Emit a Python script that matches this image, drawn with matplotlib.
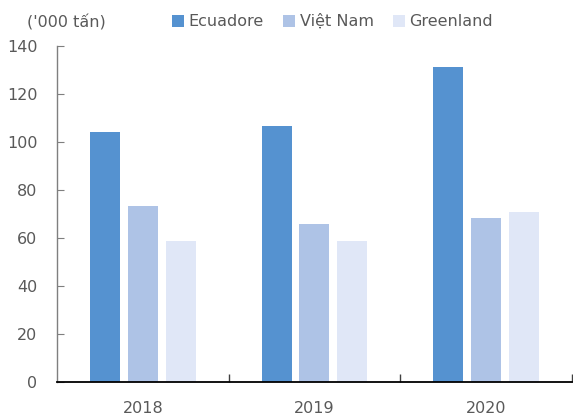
import numpy as np
import matplotlib
matplotlib.use('Agg')
from matplotlib import pyplot as plt
from matplotlib.patches import Patch

years = ['2018', '2019', '2020']
series = ['Ecuadore', 'Việt Nam', 'Greenland']
ecuadore = [104.2, 106.5, 131.3]
vietnam = [73.2, 65.8, 68.3]
greenland = [58.7, 58.8, 70.7]
colors = ['#5592D0', '#AEC3E6', '#E0E7F7']

text_col = '#595959'
plt.rcParams['font.family'] = ['DejaVu Sans']
plt.rcParams['font.size'] = 11

fig = plt.figure(figsize=(5.73, 4.17), dpi=100)
ax = fig.add_axes([0.0995, 0.084, 0.8985, 0.806])

x = np.arange(len(years))
w = 0.175
step = 0.22
for i, (vals, c) in enumerate(zip([ecuadore, vietnam, greenland], colors)):
    ax.bar(x + (i - 1) * step, vals, width=w, color=c, edgecolor='none')

ax.set_xlim(-0.5, 2.5)
ax.set_ylim(0, 140)
ax.set_yticks(np.arange(0, 141, 20))
ax.set_xticks(x)
ax.set_xticklabels(years)
ax.set_xticks([0.5, 1.5, 2.5], minor=True)

for s in ['top', 'right']:
    ax.spines[s].set_visible(False)
ax.spines['left'].set_color('#7f7f7f')
ax.spines['left'].set_linewidth(1.0)
ax.spines['bottom'].set_color('#000000')
ax.spines['bottom'].set_linewidth(1.3)

ax.tick_params(axis='y', direction='in', length=5, color='#7f7f7f', labelcolor=text_col, pad=14, labelsize=11.5)
ax.tick_params(axis='x', which='major', length=0, labelcolor=text_col, pad=14, labelsize=11.5)
ax.tick_params(axis='x', which='minor', direction='in', length=6, color='#404040', width=1)

fig.text(0.115, 0.947, "('000 tấn)", ha='center', va='center', color=text_col, fontsize=11.5)

handles = [Patch(facecolor=c, edgecolor='none') for c in colors]
fig.legend(handles, series, loc='center', bbox_to_anchor=(0.58, 0.948), ncol=3, frameon=False,
           handlelength=0.75, handleheight=0.75, handletextpad=0.3, columnspacing=1.2,
           labelcolor=text_col, fontsize=11.5)

fig.savefig('out.png', dpi=100)
